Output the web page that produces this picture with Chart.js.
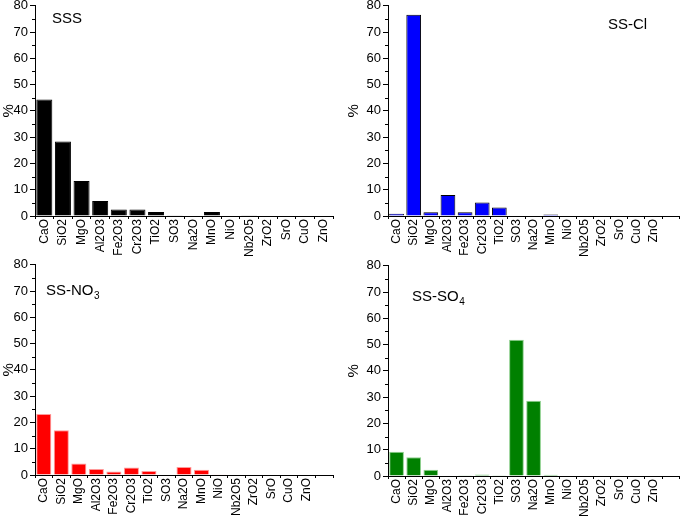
<!DOCTYPE html>
<html>
<head>
<meta charset="utf-8">
<script src="https://cdn.jsdelivr.net/npm/chart.js@4/dist/chart.umd.min.js"></script>
<style>
  body { margin: 0; background: #fff; width: 685px; height: 518px; position: relative; overflow: hidden; }
  .box { position: absolute; }
</style>
</head>
<body>
<div class="box" style="left:0px;top:-4px;width:340px;height:266px"><canvas id="c1"></canvas></div>
<div class="box" style="left:345px;top:-4px;width:340px;height:266px"><canvas id="c2"></canvas></div>
<div class="box" style="left:0px;top:255px;width:340px;height:266px"><canvas id="c3"></canvas></div>
<div class="box" style="left:345px;top:256px;width:340px;height:266px"><canvas id="c4"></canvas></div>
<script>
// oxide names along the x axis
const oxides = ["CaO", "SiO2", "MgO", "Al2O3", "Fe2O3", "Cr2O3", "TiO2", "SO3",
  "Na2O", "MnO", "NiO", "Nb2O5", "ZrO2", "SrO", "CuO", "ZnO"];
const yTicks = [0, 10, 20, 30, 40, 50, 60, 70, 80];

// % values per sample
const sss   = [44.3, 28.4, 13.3, 5.7, 2.5, 2.5, 1.5, 0.3, 0, 1.5, 0.2, 0.1, 0, 0, 0, 0];
const ssCl  = [0.9, 76.6, 1.4, 8.0, 1.4, 5.1, 3.2, 0, 0, 0.6, 0, 0, 0, 0, 0, 0];
const ssNO3 = [23.2, 17.0, 4.4, 2.3, 1.3, 2.9, 1.5, 0.2, 3.0, 2.0, 0.1, 0.2, 0, 0, 0, 0];
const ssSO4 = [9.2, 7.1, 2.4, 0, 0.3, 0.6, 0.3, 51.9, 28.6, 0.5, 0, 0, 0, 0, 0, 0];

const font = "'Liberation Sans', Arial, sans-serif";

// little name in the corner, with an optional subscript
const namePlugin = {
  id: "panelName",
  afterDraw(chart, args, opts) {
    const ctx = chart.ctx;
    ctx.save();
    ctx.fillStyle = "#000";
    ctx.textBaseline = "alphabetic";
    ctx.textAlign = "left";
    ctx.font = "15px " + font;
    ctx.fillText(opts.text, opts.x, opts.y);
    if (opts.sub) {
      const w = ctx.measureText(opts.text).width;
      ctx.font = "10px " + font;
      ctx.fillText(opts.sub, opts.x + w + 0.5, opts.y + 4);
    }
    ctx.restore();
  }
};

// minor ticks at every 5 on the y axis
const minorTicks = {
  id: "minorTicks",
  afterDraw(chart) {
    const y = chart.scales.y;
    const ctx = chart.ctx;
    ctx.save();
    ctx.strokeStyle = "#000";
    ctx.lineWidth = 1;
    for (let v = 5; v < 80; v += 10) {
      const py = Math.round(y.getPixelForValue(v)) + 0.5;
      ctx.beginPath();
      ctx.moveTo(y.right - 3, py);
      ctx.lineTo(y.right, py);
      ctx.stroke();
    }
    ctx.restore();
  }
};

function makeChart(id, labels, values, fill, edge, yWidth, padRight, name) {
  new Chart(id, {
    type: "bar",
    data: {
      labels: labels,
      datasets: [{
        data: values,
        backgroundColor: fill,
        borderColor: edge,
        borderWidth: 1,
        borderSkipped: "bottom",
        categoryPercentage: 1,
        barPercentage: 0.86
      }]
    },
    options: {
      responsive: true,
      maintainAspectRatio: false,
      animation: false,
      layout: { padding: { top: 0, right: padRight, left: 0, bottom: 0 } },
      plugins: { legend: { display: false }, tooltip: { enabled: false }, panelName: name },
      scales: {
        x: {
          grid: { display: true, offset: true, drawOnChartArea: false, drawTicks: true, tickLength: 3, color: "#000" },
          border: { display: true, color: "#000", width: 1 },
          ticks: { color: "#000", font: { family: font, size: 12 }, minRotation: 90, maxRotation: 90, autoSkip: false, padding: 0 },
          afterFit(s) { s.height = 46; }
        },
        y: {
          min: 0, max: 80,
          afterBuildTicks(s) { s.ticks = yTicks.map(v => ({ value: v })); },
          grid: { display: true, drawOnChartArea: false, drawTicks: true, tickLength: 5, color: "#000" },
          border: { display: true, color: "#000", width: 1 },
          ticks: { color: "#000", font: { family: font, size: 13 }, padding: 2 },
          title: { display: true, text: "%", color: "#000", font: { family: font, size: 15 }, padding: 0 },
          afterFit(s) { s.width = yWidth; }
        }
      }
    },
    plugins: [namePlugin, minorTicks]
  });
}

const padded = oxides.concat([""]);
const pad = arr => arr.concat([null]);

makeChart("c1", oxides, sss, "#000000", "#000000", 35, 7, { text: "SSS", x: 52, y: 27 });
makeChart("c2", padded, pad(ssCl), "#0000ff", "#000000", 43, 0, { text: "SS-Cl", x: 263, y: 33 });
makeChart("c3", padded, pad(ssNO3), "#ff0000", "#ff9a9a", 35, 7, { text: "SS-NO", sub: "3", x: 46, y: 40 });
makeChart("c4", padded, pad(ssSO4), "#008000", "#8fd08f", 43, 0, { text: "SS-SO", sub: "4", x: 67, y: 45 });
</script>
</body>
</html>
